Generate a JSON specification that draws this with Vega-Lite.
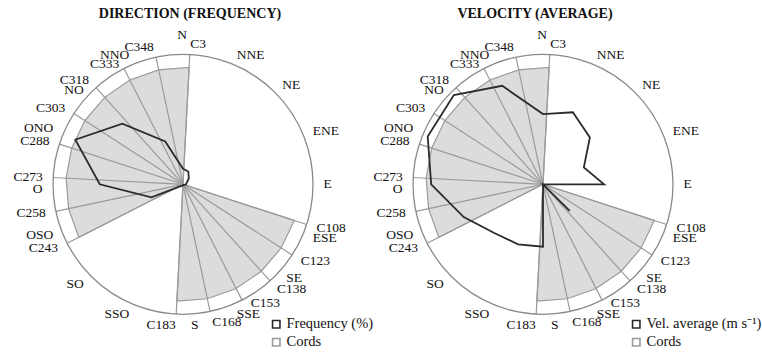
{
  "$schema": "https://vega.github.io/schema/vega-lite/v6.json",
  "background": "white",
  "padding": {"left": 3, "top": 7, "right": 0, "bottom": 0},
  "spacing": 0,
  "bounds": "flush",
  "config": {"view": {"stroke": null}, "font": "Liberation Serif", "text": {"font": "Liberation Serif", "fontSize": 13.5, "color": "#111"}},
  "resolve": {"scale": {"stroke": "independent"}, "legend": {"stroke": "independent"}},
  "datasets": {
    "labels": [
      {"name": "N", "angle": 0}, {"name": "C3", "angle": 3}, {"name": "NNE", "angle": 22.5}, {"name": "NE", "angle": 45},
      {"name": "ENE", "angle": 67.5}, {"name": "E", "angle": 90}, {"name": "C108", "angle": 108}, {"name": "ESE", "angle": 112.5},
      {"name": "C123", "angle": 123}, {"name": "SE", "angle": 135}, {"name": "C138", "angle": 138}, {"name": "C153", "angle": 153},
      {"name": "SSE", "angle": 157.5}, {"name": "C168", "angle": 168}, {"name": "S", "angle": 180}, {"name": "C183", "angle": 183},
      {"name": "SSO", "angle": 202.5}, {"name": "SO", "angle": 225}, {"name": "C243", "angle": 243}, {"name": "OSO", "angle": 247.5},
      {"name": "C258", "angle": 258}, {"name": "O", "angle": 270}, {"name": "C273", "angle": 273}, {"name": "C288", "angle": 288},
      {"name": "ONO", "angle": 292.5}, {"name": "C303", "angle": 303}, {"name": "NO", "angle": 315}, {"name": "C318", "angle": 318},
      {"name": "C333", "angle": 333}, {"name": "NNO", "angle": 337.5}, {"name": "C348", "angle": 348}
    ],
    "freq": [
      {"dir": "N", "angle": 0, "value": 3.6}, {"dir": "NNE", "angle": 22.5, "value": 3.2}, {"dir": "NE", "angle": 45, "value": 1.9},
      {"dir": "ENE", "angle": 67.5, "value": 0.9}, {"dir": "E", "angle": 90, "value": 0.7}, {"dir": "ESE", "angle": 112.5, "value": 0.3},
      {"dir": "SE", "angle": 135, "value": 0.2}, {"dir": "SSE", "angle": 157.5, "value": 0.2}, {"dir": "S", "angle": 180, "value": 0.2},
      {"dir": "SSO", "angle": 202.5, "value": 0.3}, {"dir": "SO", "angle": 225, "value": 0.5}, {"dir": "OSO", "angle": 247.5, "value": 7.9},
      {"dir": "O", "angle": 270, "value": 19.2}, {"dir": "ONO", "angle": 292.5, "value": 26.9}, {"dir": "NO", "angle": 315, "value": 19.8},
      {"dir": "NNO", "angle": 337.5, "value": 10.7}
    ],
    "vel": [
      {"dir": "N", "angle": 0, "value": 0.54}, {"dir": "NNE", "angle": 22.5, "value": 0.6}, {"dir": "NE", "angle": 45, "value": 0.51},
      {"dir": "ENE", "angle": 67.5, "value": 0.34}, {"dir": "E", "angle": 90, "value": 0.47}, {"dir": "ESE", "angle": 112.5, "value": 0},
      {"dir": "SE", "angle": 135, "value": 0.29}, {"dir": "SSE", "angle": 157.5, "value": 0}, {"dir": "S", "angle": 180, "value": 0.48},
      {"dir": "SSO", "angle": 202.5, "value": 0.5}, {"dir": "SO", "angle": 225, "value": 0.53}, {"dir": "OSO", "angle": 247.5, "value": 0.66},
      {"dir": "O", "angle": 270, "value": 0.86}, {"dir": "ONO", "angle": 292.5, "value": 0.96}, {"dir": "NO", "angle": 315, "value": 0.97},
      {"dir": "NNO", "angle": 337.5, "value": 0.82}
    ],
    "cords": [
      {"name": "", "poly": "A", "ord": 0, "angle": 243, "level": 0},
      {"name": "C243", "poly": "A", "ord": 1, "angle": 243, "level": 0.9},
      {"name": "C258", "poly": "A", "ord": 2, "angle": 258, "level": 0.9},
      {"name": "C273", "poly": "A", "ord": 3, "angle": 273, "level": 0.9},
      {"name": "C288", "poly": "A", "ord": 4, "angle": 288, "level": 0.9},
      {"name": "C303", "poly": "A", "ord": 5, "angle": 303, "level": 0.9},
      {"name": "C318", "poly": "A", "ord": 6, "angle": 318, "level": 0.9},
      {"name": "C333", "poly": "A", "ord": 7, "angle": 333, "level": 0.9},
      {"name": "C348", "poly": "A", "ord": 8, "angle": 348, "level": 0.9},
      {"name": "C3", "poly": "A", "ord": 9, "angle": 3, "level": 0.9},
      {"name": "", "poly": "B", "ord": 0, "angle": 108, "level": 0},
      {"name": "C108", "poly": "B", "ord": 1, "angle": 108, "level": 0.9},
      {"name": "C123", "poly": "B", "ord": 2, "angle": 123, "level": 0.9},
      {"name": "C138", "poly": "B", "ord": 3, "angle": 138, "level": 0.9},
      {"name": "C153", "poly": "B", "ord": 4, "angle": 153, "level": 0.9},
      {"name": "C168", "poly": "B", "ord": 5, "angle": 168, "level": 0.9},
      {"name": "C183", "poly": "B", "ord": 6, "angle": 183, "level": 0.9}
    ],
    "ring": [{"level": 1}]
  },
  "hconcat": [
    {
      "width": 360,
      "height": 326,
      "title": {"text": "DIRECTION (FREQUENCY)", "font": "Liberation Serif", "fontSize": 14, "fontWeight": "bold", "anchor": "middle", "dx": 7, "color": "#111", "offset": 6},
      "layer": [
        {
          "data": {"name": "cords"},
          "transform": [
            {"calculate": "datum.level*sin(datum.angle*PI/180)", "as": "x"},
            {"calculate": "datum.level*cos(datum.angle*PI/180)", "as": "y"}
          ],
          "mark": {"type": "line", "interpolate": "linear-closed", "fill": "#dcdcdc", "stroke": null, "strokeWidth": 0},
          "encoding": {
            "x": {"field": "x", "type": "quantitative", "scale": {"domain": [-1.3846, 1.3846], "nice": false, "zero": false}, "axis": null},
            "y": {"field": "y", "type": "quantitative", "scale": {"domain": [-1.2977, 1.21], "nice": false, "zero": false}, "axis": null},
            "detail": {"field": "poly", "type": "nominal"},
            "order": {"field": "ord", "type": "quantitative"}
          }
        },
        {
          "data": {"name": "cords"},
          "transform": [
            {"calculate": "datum.level*sin(datum.angle*PI/180)", "as": "x"},
            {"calculate": "datum.level*cos(datum.angle*PI/180)", "as": "y"}
          ],
          "mark": {"type": "line", "interpolate": "linear-closed", "strokeWidth": 1.2},
          "encoding": {
            "x": {"field": "x", "type": "quantitative"},
            "y": {"field": "y", "type": "quantitative"},
            "detail": {"field": "poly", "type": "nominal"},
            "order": {"field": "ord", "type": "quantitative"},
            "stroke": {"datum": "Cords", "type": "nominal", "scale": {"domain": ["Frequency (%)", "Cords"], "range": ["#2b2b2b", "#9a9a9a"]},
              "legend": {"title": null, "orient": "none", "legendX": 266, "legendY": 290, "symbolType": "square", "symbolSize": 55, "symbolStrokeWidth": 1.6, "symbolFillColor": "white", "labelFont": "Liberation Serif", "labelFontSize": 14.5, "labelColor": "#111", "rowPadding": 2, "labelOffset": 3}}
          }
        },
        {
          "data": {"name": "cords"},
          "transform": [
            {"filter": "datum.level > 0"},
            {"calculate": "sin(datum.angle*PI/180)", "as": "ex"},
            {"calculate": "cos(datum.angle*PI/180)", "as": "ey"}
          ],
          "mark": {"type": "rule", "color": "#9a9a9a", "strokeWidth": 1.2},
          "encoding": {
            "x": {"field": "ex", "type": "quantitative"},
            "y": {"field": "ey", "type": "quantitative"},
            "x2": {"datum": 0},
            "y2": {"datum": 0}
          }
        },
        {
          "data": {"name": "ring"},
          "mark": {"type": "point", "shape": "circle", "filled": false, "size": 67600, "stroke": "#8a8a8a", "strokeWidth": 1.3, "opacity": 1},
          "encoding": {
            "x": {"datum": 0, "type": "quantitative"},
            "y": {"datum": 0, "type": "quantitative"}
          }
        },
        {
          "data": {"name": "freq"},
          "transform": [
            {"calculate": "datum.value/30*sin(datum.angle*PI/180)", "as": "x"},
            {"calculate": "datum.value/30*cos(datum.angle*PI/180)", "as": "y"}
          ],
          "mark": {"type": "line", "interpolate": "linear-closed", "strokeWidth": 1.8},
          "encoding": {
            "x": {"field": "x", "type": "quantitative"},
            "y": {"field": "y", "type": "quantitative"},
            "order": {"field": "angle", "type": "quantitative"},
            "stroke": {"datum": "Frequency (%)", "type": "nominal"}
          }
        },
        {
          "data": {"name": "labels"},
          "transform": [
            {"filter": "datum.angle > 0 && datum.angle < 180 && datum.name != 'SE' && datum.name != 'C153'"},
            {"calculate": "1.08*sin(datum.angle*PI/180)", "as": "x"},
            {"calculate": "1.08*cos(datum.angle*PI/180)", "as": "y"}
          ],
          "mark": {"type": "text", "align": "left", "baseline": "middle"},
          "encoding": {"x": {"field": "x", "type": "quantitative"}, "y": {"field": "y", "type": "quantitative"}, "text": {"field": "name", "type": "nominal"}}
        },
        {
          "data": {"name": "labels"},
          "transform": [
            {"filter": "datum.name == 'SE' || datum.name == 'C153'"},
            {"calculate": "1.08*sin(datum.angle*PI/180)", "as": "x"},
            {"calculate": "1.08*cos(datum.angle*PI/180)", "as": "y"}
          ],
          "mark": {"type": "text", "align": "left", "baseline": "middle", "dy": -6, "dx": 4},
          "encoding": {"x": {"field": "x", "type": "quantitative"}, "y": {"field": "y", "type": "quantitative"}, "text": {"field": "name", "type": "nominal"}}
        },
        {
          "data": {"name": "labels"},
          "transform": [
            {"filter": "datum.angle > 180 && datum.name != 'NO' && datum.name != 'C333' && datum.name != 'O' && datum.name != 'OSO' && datum.name != 'ONO'"},
            {"calculate": "1.08*sin(datum.angle*PI/180)", "as": "x"},
            {"calculate": "1.08*cos(datum.angle*PI/180)", "as": "y"}
          ],
          "mark": {"type": "text", "align": "right", "baseline": "middle"},
          "encoding": {"x": {"field": "x", "type": "quantitative"}, "y": {"field": "y", "type": "quantitative"}, "text": {"field": "name", "type": "nominal"}}
        },
        {
          "data": {"name": "labels"},
          "transform": [
            {"filter": "datum.name == 'NO' || datum.name == 'C333' || datum.name == 'O'"},
            {"calculate": "1.08*sin(datum.angle*PI/180)", "as": "x"},
            {"calculate": "1.08*cos(datum.angle*PI/180)", "as": "y"}
          ],
          "mark": {"type": "text", "align": "right", "baseline": "middle", "dy": 5},
          "encoding": {"x": {"field": "x", "type": "quantitative"}, "y": {"field": "y", "type": "quantitative"}, "text": {"field": "name", "type": "nominal"}}
        },
        {
          "data": {"name": "labels"},
          "transform": [
            {"filter": "datum.name == 'OSO' || datum.name == 'ONO'"},
            {"calculate": "1.08*sin(datum.angle*PI/180)", "as": "x"},
            {"calculate": "1.08*cos(datum.angle*PI/180)", "as": "y"}
          ],
          "mark": {"type": "text", "align": "right", "baseline": "middle", "dy": -3},
          "encoding": {"x": {"field": "x", "type": "quantitative"}, "y": {"field": "y", "type": "quantitative"}, "text": {"field": "name", "type": "nominal"}}
        },
        {
          "data": {"name": "labels"},
          "transform": [
            {"filter": "datum.angle == 180"},
            {"calculate": "1.08*sin(datum.angle*PI/180)", "as": "x"},
            {"calculate": "1.08*cos(datum.angle*PI/180)", "as": "y"}
          ],
          "mark": {"type": "text", "align": "left", "baseline": "middle", "dx": 8},
          "encoding": {"x": {"field": "x", "type": "quantitative"}, "y": {"field": "y", "type": "quantitative"}, "text": {"field": "name", "type": "nominal"}}
        },
        {
          "data": {"name": "labels"},
          "transform": [
            {"filter": "datum.angle == 0"},
            {"calculate": "1.08*sin(datum.angle*PI/180)", "as": "x"},
            {"calculate": "1.08*cos(datum.angle*PI/180)", "as": "y"}
          ],
          "mark": {"type": "text", "align": "center", "baseline": "middle", "dy": -9, "dx": -1},
          "encoding": {"x": {"field": "x", "type": "quantitative"}, "y": {"field": "y", "type": "quantitative"}, "text": {"field": "name", "type": "nominal"}}
        }
      ]
    },
    {
      "width": 360,
      "height": 326,
      "title": {"text": "VELOCITY (AVERAGE)", "font": "Liberation Serif", "fontSize": 14, "fontWeight": "bold", "anchor": "middle", "dx": -8, "color": "#111", "offset": 6},
      "layer": [
        {
          "data": {"name": "cords"},
          "transform": [
            {"calculate": "datum.level*sin(datum.angle*PI/180)", "as": "x"},
            {"calculate": "datum.level*cos(datum.angle*PI/180)", "as": "y"}
          ],
          "mark": {"type": "line", "interpolate": "linear-closed", "fill": "#dcdcdc", "stroke": null, "strokeWidth": 0},
          "encoding": {
            "x": {"field": "x", "type": "quantitative", "scale": {"domain": [-1.3846, 1.3846], "nice": false, "zero": false}, "axis": null},
            "y": {"field": "y", "type": "quantitative", "scale": {"domain": [-1.2977, 1.21], "nice": false, "zero": false}, "axis": null},
            "detail": {"field": "poly", "type": "nominal"},
            "order": {"field": "ord", "type": "quantitative"}
          }
        },
        {
          "data": {"name": "cords"},
          "transform": [
            {"calculate": "datum.level*sin(datum.angle*PI/180)", "as": "x"},
            {"calculate": "datum.level*cos(datum.angle*PI/180)", "as": "y"}
          ],
          "mark": {"type": "line", "interpolate": "linear-closed", "strokeWidth": 1.2},
          "encoding": {
            "x": {"field": "x", "type": "quantitative"},
            "y": {"field": "y", "type": "quantitative"},
            "detail": {"field": "poly", "type": "nominal"},
            "order": {"field": "ord", "type": "quantitative"},
            "stroke": {"datum": "Cords", "type": "nominal", "scale": {"domain": ["Vel. average (m s⁻¹)", "Cords"], "range": ["#2b2b2b", "#9a9a9a"]},
              "legend": {"title": null, "orient": "none", "legendX": 266, "legendY": 290, "symbolType": "square", "symbolSize": 55, "symbolStrokeWidth": 1.6, "symbolFillColor": "white", "labelFont": "Liberation Serif", "labelFontSize": 14.5, "labelColor": "#111", "rowPadding": 2, "labelOffset": 3}}
          }
        },
        {
          "data": {"name": "cords"},
          "transform": [
            {"filter": "datum.level > 0"},
            {"calculate": "sin(datum.angle*PI/180)", "as": "ex"},
            {"calculate": "cos(datum.angle*PI/180)", "as": "ey"}
          ],
          "mark": {"type": "rule", "color": "#9a9a9a", "strokeWidth": 1.2},
          "encoding": {
            "x": {"field": "ex", "type": "quantitative"},
            "y": {"field": "ey", "type": "quantitative"},
            "x2": {"datum": 0},
            "y2": {"datum": 0}
          }
        },
        {
          "data": {"name": "ring"},
          "mark": {"type": "point", "shape": "circle", "filled": false, "size": 67600, "stroke": "#8a8a8a", "strokeWidth": 1.3, "opacity": 1},
          "encoding": {
            "x": {"datum": 0, "type": "quantitative"},
            "y": {"datum": 0, "type": "quantitative"}
          }
        },
        {
          "data": {"name": "vel"},
          "transform": [
            {"calculate": "datum.value*sin(datum.angle*PI/180)", "as": "x"},
            {"calculate": "datum.value*cos(datum.angle*PI/180)", "as": "y"}
          ],
          "mark": {"type": "line", "interpolate": "linear-closed", "strokeWidth": 1.8},
          "encoding": {
            "x": {"field": "x", "type": "quantitative"},
            "y": {"field": "y", "type": "quantitative"},
            "order": {"field": "angle", "type": "quantitative"},
            "stroke": {"datum": "Vel. average (m s⁻¹)", "type": "nominal"}
          }
        },
        {
          "data": {"name": "labels"},
          "transform": [
            {"filter": "datum.angle > 0 && datum.angle < 180 && datum.name != 'SE' && datum.name != 'C153'"},
            {"calculate": "1.08*sin(datum.angle*PI/180)", "as": "x"},
            {"calculate": "1.08*cos(datum.angle*PI/180)", "as": "y"}
          ],
          "mark": {"type": "text", "align": "left", "baseline": "middle"},
          "encoding": {"x": {"field": "x", "type": "quantitative"}, "y": {"field": "y", "type": "quantitative"}, "text": {"field": "name", "type": "nominal"}}
        },
        {
          "data": {"name": "labels"},
          "transform": [
            {"filter": "datum.name == 'SE' || datum.name == 'C153'"},
            {"calculate": "1.08*sin(datum.angle*PI/180)", "as": "x"},
            {"calculate": "1.08*cos(datum.angle*PI/180)", "as": "y"}
          ],
          "mark": {"type": "text", "align": "left", "baseline": "middle", "dy": -6, "dx": 4},
          "encoding": {"x": {"field": "x", "type": "quantitative"}, "y": {"field": "y", "type": "quantitative"}, "text": {"field": "name", "type": "nominal"}}
        },
        {
          "data": {"name": "labels"},
          "transform": [
            {"filter": "datum.angle > 180 && datum.name != 'NO' && datum.name != 'C333' && datum.name != 'O' && datum.name != 'OSO' && datum.name != 'ONO'"},
            {"calculate": "1.08*sin(datum.angle*PI/180)", "as": "x"},
            {"calculate": "1.08*cos(datum.angle*PI/180)", "as": "y"}
          ],
          "mark": {"type": "text", "align": "right", "baseline": "middle"},
          "encoding": {"x": {"field": "x", "type": "quantitative"}, "y": {"field": "y", "type": "quantitative"}, "text": {"field": "name", "type": "nominal"}}
        },
        {
          "data": {"name": "labels"},
          "transform": [
            {"filter": "datum.name == 'NO' || datum.name == 'C333' || datum.name == 'O'"},
            {"calculate": "1.08*sin(datum.angle*PI/180)", "as": "x"},
            {"calculate": "1.08*cos(datum.angle*PI/180)", "as": "y"}
          ],
          "mark": {"type": "text", "align": "right", "baseline": "middle", "dy": 5},
          "encoding": {"x": {"field": "x", "type": "quantitative"}, "y": {"field": "y", "type": "quantitative"}, "text": {"field": "name", "type": "nominal"}}
        },
        {
          "data": {"name": "labels"},
          "transform": [
            {"filter": "datum.name == 'OSO' || datum.name == 'ONO'"},
            {"calculate": "1.08*sin(datum.angle*PI/180)", "as": "x"},
            {"calculate": "1.08*cos(datum.angle*PI/180)", "as": "y"}
          ],
          "mark": {"type": "text", "align": "right", "baseline": "middle", "dy": -3},
          "encoding": {"x": {"field": "x", "type": "quantitative"}, "y": {"field": "y", "type": "quantitative"}, "text": {"field": "name", "type": "nominal"}}
        },
        {
          "data": {"name": "labels"},
          "transform": [
            {"filter": "datum.angle == 180"},
            {"calculate": "1.08*sin(datum.angle*PI/180)", "as": "x"},
            {"calculate": "1.08*cos(datum.angle*PI/180)", "as": "y"}
          ],
          "mark": {"type": "text", "align": "left", "baseline": "middle", "dx": 8},
          "encoding": {"x": {"field": "x", "type": "quantitative"}, "y": {"field": "y", "type": "quantitative"}, "text": {"field": "name", "type": "nominal"}}
        },
        {
          "data": {"name": "labels"},
          "transform": [
            {"filter": "datum.angle == 0"},
            {"calculate": "1.08*sin(datum.angle*PI/180)", "as": "x"},
            {"calculate": "1.08*cos(datum.angle*PI/180)", "as": "y"}
          ],
          "mark": {"type": "text", "align": "center", "baseline": "middle", "dy": -9, "dx": -1},
          "encoding": {"x": {"field": "x", "type": "quantitative"}, "y": {"field": "y", "type": "quantitative"}, "text": {"field": "name", "type": "nominal"}}
        }
      ]
    }
  ]
}
